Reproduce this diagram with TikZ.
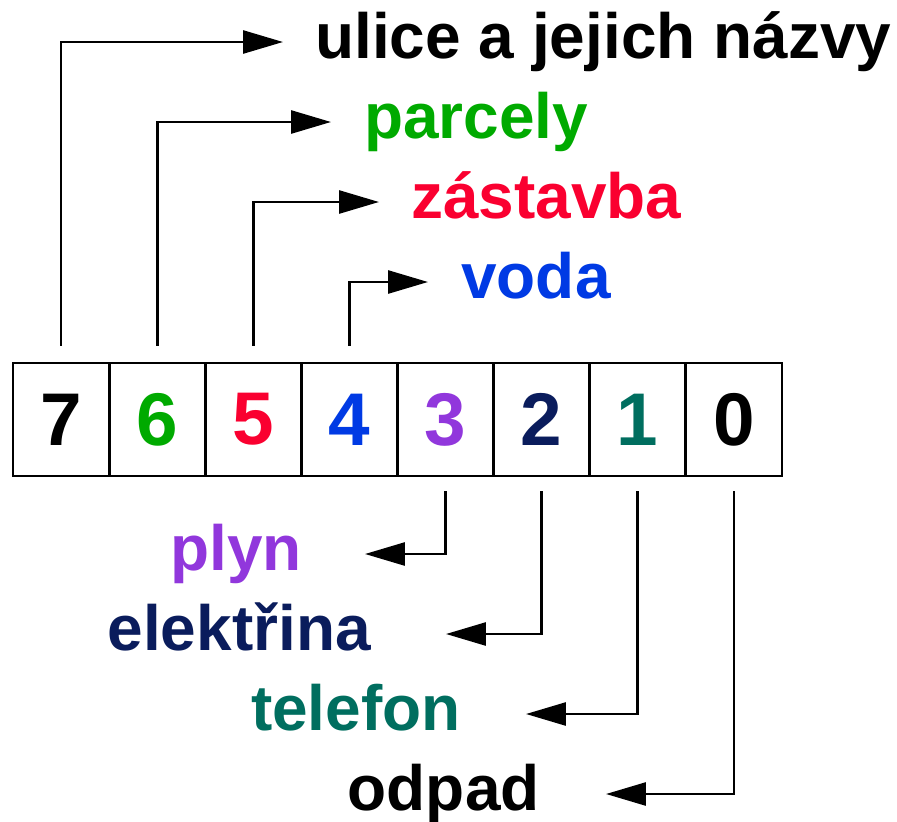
\documentclass[tikz,border=0pt]{standalone}
\usepackage{fontspec}
\setmainfont{Liberation Sans}
\usepackage{tikz}
\usetikzlibrary{arrows.meta,positioning}
\definecolor{cgreen}{RGB}{0,170,0}
\definecolor{cred}{RGB}{250,0,48}
\definecolor{cblue}{RGB}{0,58,228}
\definecolor{cpurple}{RGB}{145,55,220}
\definecolor{cnavy}{RGB}{10,28,92}
\definecolor{cteal}{RGB}{0,110,95}
\tikzset{
	cell/.style={draw, line width=0.055cm, minimum width=1.9225cm, minimum height=2.26cm, inner sep=0, font=\fontsize{42.5}{46}\selectfont\bfseries},
	lbl/.style={inner sep=0, yshift=-0.33cm, font=\fontsize{36.4}{40}\selectfont\bfseries},
	link/.style={line width=0.055cm, -{Triangle[length=0.8cm, width=0.46cm]}}
}

\begin{document}
\begin{tikzpicture}[x=0.02cm, y=-0.02cm]
			%%%%% START %%%%%
			\useasboundingbox (0, 0) rectangle (897, 822);
			
			% bit cells
			\node[cell] (c7) at (61.1, 419.5) {7};
			\node[cell, text=cgreen] (c6) at (157.2, 419.5) {6};
			\node[cell, text=cred] (c5) at (253.3, 419.5) {5};
			\node[cell, text=cblue] (c4) at (349.4, 419.5) {4};
			\node[cell, text=cpurple] (c3) at (445.5, 419.5) {3};
			\node[cell, text=cnavy] (c2) at (541.6, 419.5) {2};
			\node[cell, text=cteal] (c1) at (637.7, 419.5) {1};
			\node[cell] (c0) at (733.9, 419.5) {0};
			
			% arrow tips
			\coordinate (t7) at (283, 42);
			\coordinate (t6) at (331, 122);
			\coordinate (t5) at (379, 202);
			\coordinate (t4) at (428, 282);
			\coordinate (t3) at (365, 554);
			\coordinate (t2) at (446, 634);
			\coordinate (t1) at (526, 714);
			\coordinate (t0) at (606, 794);
			
			% upper labels
			\node[lbl, right=0.64cm of t7, anchor=base west] (l7) {ulice a jejich názvy};
			\node[lbl, text=cgreen, right=0.66cm of t6, anchor=base west] (l6) {parcely};
			\node[lbl, text=cred, right=0.64cm of t5, anchor=base west] (l5) {zástavba};
			\node[lbl, text=cblue, right=0.66cm of t4, anchor=base west] (l4) {voda};
			
			% lower labels
			\node[lbl, text=cpurple, left=1.26cm of t3, anchor=base east] (l3) {plyn};
			\node[lbl, text=cnavy, left=1.5cm of t2, anchor=base east] (l2) {elektřina};
			\node[lbl, text=cteal, left=1.3cm of t1, anchor=base east] (l1) {telefon};
			\node[lbl, left=1.32cm of t0, anchor=base east] (l0) {odpad};
			
			% connectors
			\draw[link] ([yshift=0.32cm]c7.north) |- (t7);
			\draw[link] ([yshift=0.32cm]c6.north) |- (t6);
			\draw[link] ([yshift=0.32cm]c5.north) |- (t5);
			\draw[link] ([yshift=0.32cm]c4.north) |- (t4);
			
			\draw[link] ([yshift=-0.28cm]c3.south) |- (t3);
			\draw[link] ([yshift=-0.28cm]c2.south) |- (t2);
			\draw[link] ([yshift=-0.28cm]c1.south) |- (t1);
			\draw[link] ([yshift=-0.28cm]c0.south) |- (t0);
			
			%%%%% END %%%%%
\end{tikzpicture}
\end{document}
